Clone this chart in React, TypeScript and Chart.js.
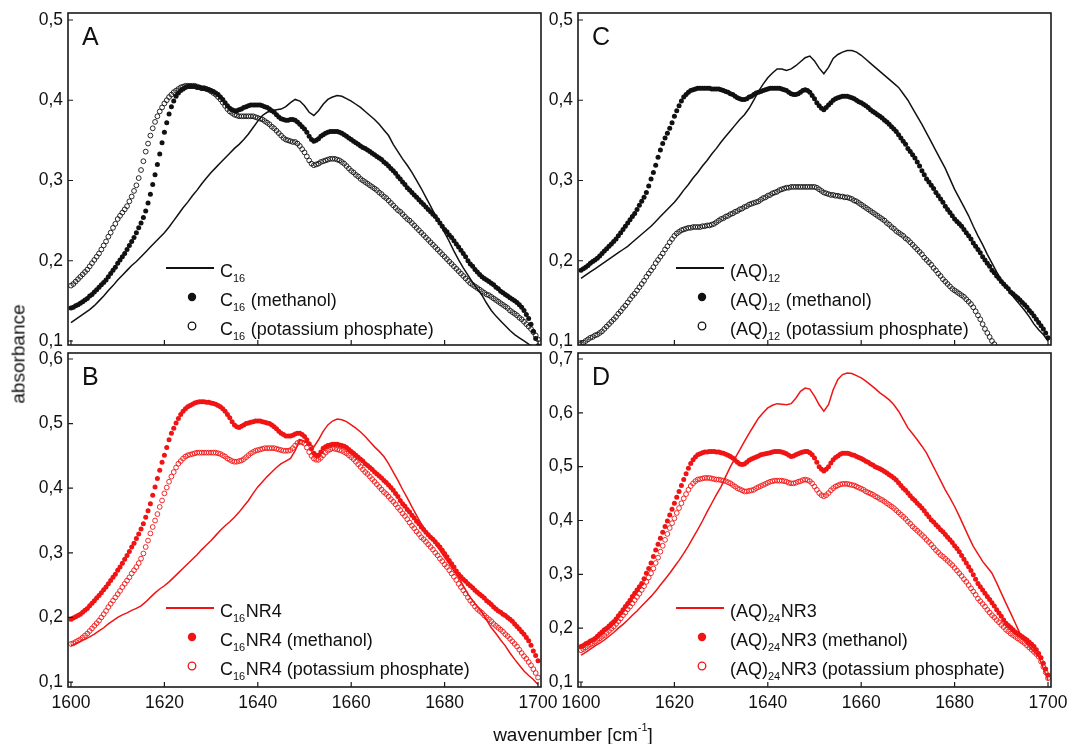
import React, { useEffect, useRef } from 'react';
import { Chart, registerables } from 'chart.js';

Chart.register(...registerables);

// ---------- data ----------
// x grids (wavenumber, cm-1): solid spectra read every 1 cm-1, marker spectra every 0.5 cm-1
const wavenumbers: number[] = Array.from({ length: 101 }, (_, i) => 1600 + i);
const wavenumbersHalf: number[] = Array.from({ length: 201 }, (_, i) => 1600 + i * 0.5);
const xTicks: number[] = [1600, 1620, 1640, 1660, 1680, 1700];
const yTicksA: number[] = [0.1, 0.2, 0.3, 0.4, 0.5];
const yTicksC: number[] = [0.1, 0.2, 0.3, 0.4, 0.5];
const yTicksB: number[] = [0.1, 0.2, 0.3, 0.4, 0.5, 0.6];
const yTicksD: number[] = [0.1, 0.2, 0.3, 0.4, 0.5, 0.6, 0.7];

const labelsA: string[] = ['C_{16}', 'C_{16} (methanol)', 'C_{16} (potassium phosphate)'];
const labelsC: string[] = ['(AQ)_{12}', '(AQ)_{12} (methanol)', '(AQ)_{12} (potassium phosphate)'];
const labelsB: string[] = ['C_{16}NR4', 'C_{16}NR4 (methanol)', 'C_{16}NR4 (potassium phosphate)'];
const labelsD: string[] = ['(AQ)_{24}NR3', '(AQ)_{24}NR3 (methanol)', '(AQ)_{24}NR3 (potassium phosphate)'];

// Panel A: C16
const aFilm: (number | null)[] = [
  .123, .127, .131, .135, .139, .144, .150, .156, .163, .169,
  .176, .182, .188, .194, .199, .205, .211, .217, .223, .229,
  .235, .242, .250, .258, .266, .273, .281, .288, .296, .303,
  .310, .316, .322, .328, .334, .340, .345, .351, .358, .366,
  .374, .381, .385, .387, .388, .389, .392, .397, .401, .399,
  .393, .385, .381, .387, .395, .401, .404, .406, .405, .402,
  .399, .395, .391, .386, .381, .376, .370, .363, .356, .345,
  .336, .327, .319, .310, .300, .290, .279, .268, .257, .246,
  .235, .224, .212, .201, .191, .182, .173, .165, .157, .147,
  .138, .131, .125, .119, .113, .108, .104, .100, .096, .093,
  .090,
];
const aMethanol: (number | null)[] = [
  .141, .142, .144, .145, .147, .149, .151, .153, .156, .158,
  .161, .164, .167, .170, .173, .176, .180, .184, .188, .192,
  .197, .201, .205, .209, .214, .219, .224, .229, .235, .241,
  .247, .254, .262, .272, .283, .295, .307, .320, .333, .347,
  .360, .372, .383, .392, .399, .405, .409, .412, .414, .416,
  .417, .417, .417, .417, .416, .416, .415, .415, .414, .413,
  .412, .411, .409, .407, .404, .401, .397, .393, .390, .388,
  .387, .387, .388, .389, .391, .392, .393, .394, .394, .394,
  .394, .394, .393, .392, .391, .389, .387, .385, .382, .379,
  .377, .376, .375, .375, .376, .376, .375, .373, .370, .367,
  .364, .360, .355, .351, .349, .350, .352, .355, .357, .359,
  .360, .361, .361, .361, .361, .360, .359, .357, .355, .353,
  .351, .349, .347, .345, .343, .341, .340, .338, .336, .334,
  .332, .330, .328, .326, .323, .321, .318, .315, .312, .309,
  .305, .302, .298, .295, .291, .288, .285, .282, .279, .276,
  .273, .270, .267, .264, .261, .258, .255, .251, .247, .243,
  .239, .236, .232, .229, .225, .221, .217, .213, .209, .205,
  .200, .196, .193, .189, .186, .183, .180, .178, .176, .174,
  .172, .170, .167, .165, .162, .160, .158, .156, .154, .152,
  .150, .148, .145, .142, .138, .133, .128, .121, .112, .103,
  .094,
];
const aPhosphate: (number | null)[] = [
  .169, .171, .174, .177, .180, .183, .186, .189, .193, .197,
  .201, .205, .209, .214, .219, .224, .230, .235, .241, .246,
  .252, .256, .260, .264, .268, .274, .280, .287, .294, .303,
  .313, .324, .336, .346, .356, .365, .373, .380, .386, .391,
  .396, .400, .404, .407, .410, .412, .414, .416, .417, .418,
  .418, .418, .418, .418, .417, .416, .415, .415, .414, .413,
  .411, .409, .407, .404, .401, .397, .393, .389, .386, .384,
  .382, .381, .380, .380, .380, .380, .380, .380, .380, .379,
  .378, .377, .376, .374, .372, .370, .367, .365, .362, .359,
  .356, .353, .351, .350, .349, .348, .348, .346, .343, .339,
  .335, .330, .325, .321, .319, .320, .321, .323, .324, .325,
  .326, .327, .327, .327, .326, .325, .323, .321, .318, .315,
  .312, .310, .307, .305, .302, .300, .298, .296, .294, .292,
  .290, .288, .285, .283, .280, .278, .275, .272, .269, .266,
  .263, .261, .258, .255, .252, .250, .247, .244, .241, .238,
  .235, .232, .229, .226, .223, .220, .217, .214, .211, .208,
  .205, .202, .199, .196, .193, .190, .187, .184, .181, .178,
  .175, .172, .170, .168, .166, .164, .162, .160, .158, .157,
  .155, .153, .151, .149, .147, .145, .143, .141, .138, .136,
  .134, .132, .129, .127, .124, .121, .118, .115, .111, .107,
  .102,
];

// Panel C: (AQ)12
const cFilm: (number | null)[] = [
  .178, .182, .186, .190, .194, .198, .202, .206, .210, .214,
  .218, .223, .228, .233, .238, .243, .249, .255, .261, .267,
  .273, .280, .288, .295, .303, .310, .318, .325, .333, .340,
  .348, .355, .362, .369, .376, .382, .390, .400, .411, .420,
  .428, .434, .439, .439, .437, .439, .443, .448, .453, .455,
  .449, .440, .433, .441, .452, .457, .460, .462, .462, .460,
  .456, .451, .446, .441, .436, .431, .426, .421, .416, .408,
  .400, .390, .380, .370, .359, .348, .337, .326, .315, .302,
  .289, .278, .267, .256, .243, .231, .220, .208, .197, .186,
  .176, .167, .159, .152, .145, .138, .130, .121, .114, .108,
  .100,
];
const cMethanol: (number | null)[] = [
  .188, .190, .192, .194, .197, .199, .201, .203, .206, .209,
  .212, .215, .218, .221, .224, .227, .231, .235, .239, .243,
  .247, .251, .255, .259, .264, .269, .274, .279, .285, .293,
  .302, .310, .319, .329, .338, .346, .353, .359, .365, .372,
  .380, .387, .393, .399, .404, .407, .410, .412, .413, .414,
  .415, .415, .415, .415, .415, .415, .414, .414, .414, .414,
  .413, .412, .411, .410, .408, .407, .405, .403, .402, .401,
  .401, .402, .404, .405, .407, .409, .410, .411, .412, .413,
  .414, .415, .415, .415, .415, .415, .414, .413, .412, .410,
  .408, .407, .407, .408, .410, .412, .413, .412, .410, .406,
  .402, .397, .393, .390, .388, .391, .394, .397, .400, .402,
  .403, .404, .405, .405, .405, .404, .403, .402, .400, .398,
  .397, .395, .393, .391, .388, .386, .384, .382, .380, .378,
  .375, .373, .370, .367, .364, .361, .357, .353, .349, .345,
  .340, .336, .332, .328, .323, .318, .312, .307, .302, .298,
  .294, .290, .285, .281, .277, .273, .268, .264, .260, .256,
  .252, .249, .246, .243, .239, .235, .231, .227, .222, .218,
  .214, .210, .205, .201, .197, .193, .188, .185, .181, .178,
  .174, .171, .168, .165, .161, .159, .156, .154, .151, .148,
  .145, .142, .138, .135, .131, .127, .123, .119, .115, .110,
  .104,
];
const cPhosphate: (number | null)[] = [
  .096, .098, .100, .102, .104, .105, .107, .108, .110, .112,
  .115, .118, .121, .124, .127, .130, .134, .137, .141, .144,
  .148, .152, .156, .159, .163, .167, .171, .175, .180, .184,
  .188, .192, .197, .201, .205, .209, .214, .218, .223, .227,
  .231, .234, .236, .238, .239, .240, .241, .241, .242, .242,
  .242, .242, .243, .243, .244, .244, .245, .246, .248, .250,
  .252, .253, .255, .256, .258, .259, .261, .262, .264, .265,
  .267, .268, .270, .271, .272, .273, .274, .276, .278, .279,
  .281, .282, .284, .285, .286, .288, .289, .290, .291, .291,
  .292, .292, .292, .292, .292, .292, .292, .292, .292, .292,
  .292, .291, .289, .287, .285, .284, .283, .282, .282, .281,
  .281, .280, .280, .279, .279, .278, .277, .275, .274, .272,
  .270, .268, .266, .264, .262, .260, .258, .256, .254, .252,
  .250, .247, .245, .242, .240, .237, .235, .233, .231, .228,
  .226, .223, .220, .217, .214, .211, .208, .204, .201, .198,
  .195, .191, .188, .184, .181, .177, .174, .171, .168, .165,
  .163, .161, .159, .157, .155, .152, .149, .146, .142, .137,
  .132, .127, .121, .115, .110, .105, .100, .096, .092, .088,
  null, null, null, null, null, null, null, null, null, null,
  null, null, null, null, null, null, null, null, null, null,
  null,
];

// Panel B: C16NR4
const bFilm: (number | null)[] = [
  .156, .159, .163, .166, .170, .174, .179, .184, .190, .195,
  .200, .204, .207, .211, .214, .218, .224, .231, .238, .244,
  .249, .255, .262, .269, .276, .283, .290, .297, .305, .312,
  .319, .327, .335, .342, .348, .355, .363, .372, .381, .392,
  .402, .410, .418, .425, .432, .438, .442, .446, .458, .475,
  .472, .469, .464, .475, .488, .498, .504, .507, .506, .503,
  .498, .493, .487, .480, .472, .464, .457, .449, .438, .425,
  .412, .398, .385, .371, .358, .345, .334, .324, .314, .304,
  .293, .283, .272, .262, .249, .236, .226, .217, .208, .196,
  .184, .175, .165, .156, .145, .135, .126, .117, .110, .104,
  .096,
];
const bMethanol: (number | null)[] = [
  .197, .199, .201, .203, .205, .208, .211, .214, .218, .222,
  .226, .230, .234, .238, .243, .247, .252, .257, .262, .267,
  .273, .278, .284, .290, .296, .302, .309, .315, .322, .329,
  .337, .345, .355, .365, .376, .389, .402, .415, .428, .440,
  .451, .463, .475, .485, .493, .501, .508, .514, .519, .523,
  .526, .528, .530, .532, .533, .534, .534, .534, .533, .533,
  .532, .531, .530, .528, .526, .523, .519, .514, .509, .503,
  .498, .495, .494, .496, .498, .500, .501, .502, .503, .504,
  .504, .504, .503, .502, .501, .500, .498, .495, .492, .488,
  .485, .483, .481, .481, .481, .482, .484, .485, .485, .483,
  .480, .475, .469, .461, .454, .451, .451, .456, .462, .464,
  .466, .467, .468, .468, .468, .467, .466, .465, .463, .460,
  .457, .454, .451, .448, .445, .442, .438, .435, .432, .429,
  .425, .422, .419, .416, .412, .409, .405, .401, .397, .392,
  .387, .381, .376, .372, .367, .363, .358, .354, .349, .345,
  .340, .336, .332, .328, .324, .321, .317, .313, .309, .304,
  .299, .294, .288, .283, .278, .272, .267, .263, .259, .256,
  .252, .249, .246, .242, .239, .236, .233, .230, .226, .223,
  .220, .216, .213, .210, .208, .205, .203, .200, .197, .194,
  .190, .186, .182, .178, .174, .169, .164, .157, .148, .141,
  .133,
];
const bPhosphate: (number | null)[] = [
  .159, .160, .162, .164, .166, .169, .172, .175, .179, .183,
  .187, .191, .195, .200, .205, .210, .216, .221, .226, .231,
  .236, .241, .247, .252, .257, .262, .268, .273, .278, .284,
  .291, .299, .309, .319, .330, .340, .350, .360, .371, .381,
  .392, .401, .410, .418, .425, .432, .438, .442, .446, .449,
  .451, .452, .453, .454, .455, .455, .455, .455, .455, .455,
  .455, .455, .455, .454, .453, .451, .449, .446, .444, .442,
  .441, .441, .442, .443, .445, .448, .451, .454, .456, .458,
  .459, .460, .461, .462, .462, .462, .462, .462, .461, .460,
  .459, .458, .458, .458, .459, .462, .466, .470, .472, .471,
  .469, .463, .456, .450, .446, .444, .444, .447, .451, .455,
  .458, .460, .462, .461, .460, .459, .458, .456, .454, .451,
  .448, .445, .441, .437, .433, .429, .425, .422, .418, .414,
  .410, .406, .402, .398, .394, .391, .387, .383, .379, .375,
  .370, .366, .361, .357, .352, .347, .342, .338, .333, .329,
  .324, .321, .317, .313, .309, .305, .300, .296, .291, .287,
  .282, .278, .273, .268, .263, .258, .252, .247, .242, .237,
  .231, .226, .222, .217, .213, .210, .207, .203, .200, .197,
  .194, .190, .187, .184, .181, .178, .174, .171, .167, .163,
  .159, .155, .150, .145, .140, .136, .131, .126, .120, .114,
  .107,
];

// Panel D: (AQ)24NR3
const dFilm: (number | null)[] = [
  .150, .155, .161, .167, .172, .178, .185, .192, .200, .207,
  .215, .224, .232, .241, .250, .259, .269, .280, .291, .302,
  .314, .326, .339, .353, .368, .383, .399, .416, .432, .448,
  .463, .482, .500, .516, .531, .547, .562, .576, .590, .600,
  .609, .614, .617, .616, .615, .617, .627, .640, .646, .644,
  .631, .615, .603, .615, .643, .662, .671, .674, .673, .669,
  .665, .659, .652, .645, .637, .631, .624, .615, .603, .588,
  .572, .561, .550, .538, .525, .508, .491, .474, .457, .442,
  .426, .408, .389, .370, .352, .338, .324, .313, .302, .284,
  .265, .246, .228, .209, .190, .177, .166, .156, .147, .125,
  .104,
];
const dMethanol: (number | null)[] = [
  .166, .168, .171, .173, .176, .178, .181, .185, .189, .193,
  .197, .200, .204, .208, .212, .217, .223, .228, .234, .240,
  .246, .252, .259, .265, .271, .277, .283, .292, .302, .311,
  .321, .333, .345, .356, .367, .378, .389, .399, .410, .421,
  .432, .443, .454, .465, .476, .487, .497, .506, .513, .518,
  .522, .524, .526, .527, .527, .528, .528, .528, .527, .527,
  .526, .525, .523, .521, .519, .516, .512, .508, .505, .504,
  .505, .508, .512, .514, .516, .518, .520, .522, .523, .524,
  .525, .526, .527, .528, .528, .528, .527, .526, .524, .521,
  .519, .520, .522, .524, .526, .527, .528, .528, .526, .522,
  .516, .508, .500, .495, .492, .495, .500, .507, .513, .517,
  .520, .523, .525, .525, .525, .524, .522, .521, .519, .517,
  .515, .513, .510, .508, .505, .503, .500, .498, .496, .494,
  .491, .488, .485, .482, .479, .475, .470, .465, .460, .456,
  .451, .446, .441, .437, .432, .428, .423, .418, .412, .407,
  .401, .397, .392, .388, .383, .379, .374, .369, .364, .359,
  .353, .348, .342, .335, .328, .321, .314, .307, .299, .291,
  .283, .277, .271, .265, .259, .253, .247, .241, .234, .228,
  .222, .215, .209, .205, .201, .197, .193, .190, .187, .184,
  .181, .178, .174, .170, .166, .160, .153, .145, .135, .124,
  .113,
];
const dPhosphate: (number | null)[] = [
  .159, .161, .164, .167, .170, .172, .175, .178, .181, .184,
  .187, .191, .195, .199, .203, .208, .213, .218, .224, .229,
  .235, .240, .246, .252, .258, .264, .271, .278, .286, .294,
  .302, .311, .321, .331, .342, .353, .364, .375, .386, .395,
  .404, .414, .423, .432, .441, .449, .457, .464, .469, .473,
  .476, .477, .478, .479, .479, .479, .478, .477, .476, .476,
  .475, .474, .473, .471, .469, .466, .463, .460, .458, .456,
  .454, .454, .455, .456, .457, .460, .462, .464, .466, .468,
  .470, .472, .473, .474, .474, .474, .474, .473, .472, .470,
  .469, .469, .470, .472, .473, .475, .476, .475, .473, .469,
  .463, .457, .451, .447, .445, .447, .451, .456, .460, .463,
  .465, .467, .468, .468, .468, .467, .466, .465, .463, .461,
  .459, .457, .454, .452, .450, .448, .445, .443, .440, .438,
  .435, .432, .429, .426, .423, .419, .415, .411, .407, .403,
  .398, .394, .389, .385, .381, .377, .373, .369, .364, .360,
  .355, .350, .345, .341, .336, .333, .329, .325, .321, .317,
  .312, .307, .302, .297, .291, .286, .280, .274, .268, .262,
  .255, .250, .245, .240, .234, .229, .224, .220, .215, .211,
  .206, .202, .197, .194, .190, .187, .184, .181, .178, .175,
  .172, .168, .164, .160, .156, .152, .147, .138, .128, .118,
  .107,
];

// ---------- styling / layout ----------
const FONT = "'Liberation Sans', Arial, Helvetica, sans-serif";
const BLACK = '#111111';
const RED = '#f01414';
const Y_AXIS_W = 40;
const X_AXIS_H = 30;
const CANVAS_W = 1068;
const CANVAS_H = 744;

type Kind = 'line' | 'dot' | 'ring';
type PanelDef = {
  letter: string;
  color: string;
  area: { left: number; right: number; top: number; bottom: number };
  yMin: number;
  yMax: number;
  yTicks: number[];
  showXLabels: boolean;
  labels: string[];
  series: (number | null)[][];
};

const kinds: Kind[] = ['line', 'dot', 'ring'];

const panels: PanelDef[] = [
  {
    letter: 'A', color: BLACK,
    area: { left: 68, right: 541, top: 13, bottom: 345 },
    yMin: 0.095, yMax: 0.5087, yTicks: yTicksA, showXLabels: false,
    labels: labelsA, series: [aFilm, aMethanol, aPhosphate],
  },
  {
    letter: 'C', color: BLACK,
    area: { left: 578, right: 1051, top: 13, bottom: 345 },
    yMin: 0.095, yMax: 0.5087, yTicks: yTicksC, showXLabels: false,
    labels: labelsC, series: [cFilm, cMethanol, cPhosphate],
  },
  {
    letter: 'B', color: RED,
    area: { left: 68, right: 541, top: 353, bottom: 687 },
    yMin: 0.0923, yMax: 0.6093, yTicks: yTicksB, showXLabels: true,
    labels: labelsB, series: [bFilm, bMethanol, bPhosphate],
  },
  {
    letter: 'D', color: RED,
    area: { left: 578, right: 1051, top: 353, bottom: 687 },
    yMin: 0.0907, yMax: 0.7111, yTicks: yTicksD, showXLabels: true,
    labels: labelsD, series: [dFilm, dMethanol, dPhosphate],
  },
];

type Piece = { t: string; sub: boolean };
function splitLabel(s: string): Piece[] {
  return s
    .split(/(_\{[^}]*\})/)
    .filter((p) => p.length > 0)
    .map((p) => (p.startsWith('_{') ? { t: p.slice(2, -1), sub: true } : { t: p, sub: false }));
}

const decoPlugin = {
  id: 'deco',
  afterDatasetsDraw(chart: any, _args: any, opts: any) {
    const { ctx, chartArea: a } = chart;
    const xs = chart.scales.x;
    const ys = chart.scales.y;
    ctx.save();
    // frame
    ctx.strokeStyle = '#1a1a1a';
    ctx.lineWidth = 1.6;
    ctx.strokeRect(a.left, a.top, a.right - a.left, a.bottom - a.top);
    // inward ticks
    ctx.lineWidth = 1.2;
    ctx.beginPath();
    for (const v of opts.xTicks) {
      const px = xs.getPixelForValue(v);
      ctx.moveTo(px, a.bottom);
      ctx.lineTo(px, a.bottom - 5);
    }
    for (const v of opts.yTicks) {
      const py = ys.getPixelForValue(v);
      ctx.moveTo(a.left, py);
      ctx.lineTo(a.left + 5, py);
    }
    ctx.stroke();
    // panel letter
    ctx.fillStyle = BLACK;
    ctx.textAlign = 'left';
    ctx.textBaseline = 'alphabetic';
    ctx.font = `25px ${FONT}`;
    ctx.fillText(opts.letter, a.left + 14, a.top + 32);
    // legend
    opts.labels.forEach((label: string, i: number) => {
      const y = a.top + 255 + i * 29;
      const kind: Kind = kinds[i];
      ctx.strokeStyle = opts.color;
      ctx.fillStyle = opts.color;
      if (kind === 'line') {
        ctx.lineWidth = 1.8;
        ctx.beginPath();
        ctx.moveTo(a.left + 98, y);
        ctx.lineTo(a.left + 146, y);
        ctx.stroke();
      } else if (kind === 'dot') {
        ctx.beginPath();
        ctx.arc(a.left + 124, y, 4.2, 0, Math.PI * 2);
        ctx.fill();
      } else {
        ctx.lineWidth = 1.3;
        ctx.beginPath();
        ctx.arc(a.left + 124, y, 3.8, 0, Math.PI * 2);
        ctx.stroke();
      }
      let x = a.left + 152;
      const base = y + 8.5;
      ctx.fillStyle = BLACK;
      for (const p of splitLabel(label)) {
        ctx.font = p.sub ? `11px ${FONT}` : `18px ${FONT}`;
        ctx.fillText(p.t, x, p.sub ? base + 5 : base);
        x += ctx.measureText(p.t).width + (p.sub ? 0.5 : 0);
      }
    });
    ctx.restore();
  },
};

function buildConfig(p: PanelDef): any {
  const datasets = p.series.map((vals, i) => {
    const kind = kinds[i];
    const grid = kind === 'line' ? wavenumbers : wavenumbersHalf;
    return {
      label: p.labels[i],
      data: vals.map((y, j) => ({ x: grid[j], y })),
      showLine: kind === 'line',
      borderColor: p.color,
      backgroundColor: kind === 'dot' ? p.color : 'rgba(0,0,0,0)',
      borderWidth: kind === 'line' ? 1.5 : 0,
      pointRadius: kind === 'line' ? 0 : kind === 'dot' ? 2.5 : 2.4,
      pointBorderWidth: kind === 'ring' ? 0.9 : 0,
      pointBackgroundColor: kind === 'dot' ? p.color : 'rgba(0,0,0,0)',
      pointBorderColor: p.color,
      pointHoverRadius: 0,
      tension: 0,
      spanGaps: false,
      clip: 0,
    };
  });
  const a = p.area;
  return {
    type: 'line',
    data: { datasets },
    plugins: [decoPlugin],
    options: {
      responsive: false,
      animation: false,
      devicePixelRatio: 1,
      events: [],
      layout: {
        padding: {
          left: a.left - Y_AXIS_W,
          right: CANVAS_W - a.right,
          top: a.top,
          bottom: CANVAS_H - a.bottom - X_AXIS_H,
        },
      },
      scales: {
        x: {
          type: 'linear',
          min: 1599.36,
          max: 1700.64,
          grid: { display: false, drawTicks: false },
          border: { display: false },
          afterBuildTicks: (s: any) => {
            s.ticks = xTicks.map((v) => ({ value: v }));
          },
          afterFit: (s: any) => {
            s.height = X_AXIS_H;
            s.paddingLeft = 0;
            s.paddingRight = 0;
          },
          ticks: {
            display: p.showXLabels,
            padding: 6,
            color: BLACK,
            font: { family: FONT, size: 17.5 },
            maxRotation: 0,
            autoSkip: false,
            callback: (v: number) => String(v),
          },
        },
        y: {
          type: 'linear',
          min: p.yMin,
          max: p.yMax,
          grid: { display: false, drawTicks: false },
          border: { display: false },
          afterBuildTicks: (s: any) => {
            s.ticks = p.yTicks.map((v) => ({ value: v }));
          },
          afterFit: (s: any) => {
            s.width = Y_AXIS_W;
            s.paddingTop = 0;
            s.paddingBottom = 0;
          },
          ticks: {
            padding: 5,
            color: BLACK,
            font: { family: FONT, size: 17.5 },
            autoSkip: false,
            callback: (v: number) => v.toFixed(1).replace('.', ','),
          },
        },
      },
      plugins: {
        legend: { display: false },
        tooltip: { enabled: false },
        deco: {
          letter: p.letter,
          color: p.color,
          labels: p.labels,
          xTicks,
          yTicks: p.yTicks,
        },
      },
    },
  };
}

function Panel({ def }: { def: PanelDef }) {
  const ref = useRef<HTMLCanvasElement | null>(null);
  useEffect(() => {
    if (!ref.current) return;
    const chart = new Chart(ref.current, buildConfig(def));
    return () => chart.destroy();
  }, [def]);
  return (
    <canvas
      ref={ref}
      width={CANVAS_W}
      height={CANVAS_H}
      style={{ position: 'absolute', left: 0, top: 0, width: CANVAS_W, height: CANVAS_H }}
    />
  );
}

export default function App() {
  return (
    <div
      style={{
        position: 'absolute',
        left: 0,
        top: 0,
        width: CANVAS_W,
        height: CANVAS_H,
        background: '#ffffff',
        overflow: 'hidden',
        fontFamily: FONT,
        color: BLACK,
      }}
    >
      {panels.map((p) => (
        <Panel key={p.letter} def={p} />
      ))}
      <div
        style={{
          position: 'absolute',
          left: 18,
          top: 354,
          transform: 'translate(-50%, -50%) rotate(-90deg)',
          fontSize: 19,
          whiteSpace: 'nowrap',
          lineHeight: 1,
        }}
      >
        absorbance
      </div>
      <div
        style={{
          position: 'absolute',
          left: 573,
          top: 734,
          transform: 'translate(-50%, -50%)',
          fontSize: 19,
          whiteSpace: 'nowrap',
          lineHeight: 1,
        }}
      >
        wavenumber [cm<sup style={{ fontSize: 11, verticalAlign: 'top', position: 'relative', top: -3 }}>-1</sup>]
      </div>
    </div>
  );
}
